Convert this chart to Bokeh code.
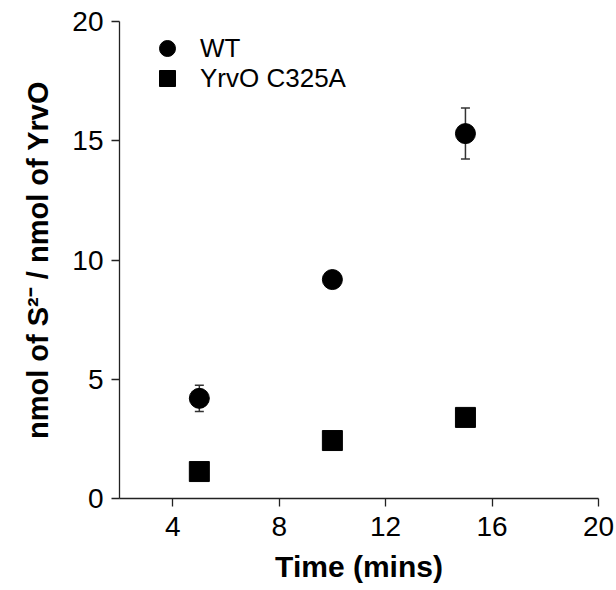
from bokeh.plotting import figure
from bokeh.models import Range1d, FixedTicker, Whisker, ColumnDataSource, Legend, LegendItem, TeeHead
from bokeh.embed import file_html
from bokeh.resources import INLINE

# data
times = [5, 10, 15]
wt_mean = [4.2, 9.18, 15.3]
wt_err = [0.55, 0.25, 1.07]
mut_mean = [1.13, 2.43, 3.40]
mut_err = [0.1, 0.1, 0.1]
x_ticks = [4, 8, 12, 16, 20]
y_ticks = [0, 5, 10, 15, 20]
series_names = ["WT", "YrvO C325A"]

FONT = "Liberation Sans"

p = figure(width=616, height=588, output_backend="svg", toolbar_location=None,
           x_range=Range1d(2, 20), y_range=Range1d(0, 20),
           min_border_left=119, min_border_right=18, min_border_top=21, min_border_bottom=90)
p.outline_line_color = None
p.xgrid.visible = False
p.ygrid.visible = False
p.background_fill_color = "white"
p.border_fill_color = "white"

for ax in (p.xaxis[0], p.yaxis[0]):
    ax.axis_line_color = "#222222"
    ax.axis_line_width = 1.3
    ax.major_tick_line_color = "#222222"
    ax.major_tick_line_width = 1.3
    ax.major_tick_out = 8
    ax.major_tick_in = 0
    ax.minor_tick_line_color = None
    ax.major_label_text_font = FONT
    ax.major_label_text_font_size = "28px"
    ax.major_label_text_color = "black"
    ax.axis_label_text_font = FONT
    ax.axis_label_text_font_style = "bold"
    ax.axis_label_text_color = "black"

p.xaxis.axis_label_text_font_size = "30px"
p.yaxis.axis_label_text_font_size = "29px"
p.xaxis.ticker = FixedTicker(ticks=x_ticks)
p.yaxis.ticker = FixedTicker(ticks=y_ticks)
p.xaxis.axis_label = "Time (mins)"
p.yaxis.axis_label = "nmol of S\u00b2\u207b / nmol of YrvO"
p.xaxis.major_label_standoff = 10
p.yaxis.major_label_standoff = 8
p.xaxis.axis_label_standoff = 11
p.yaxis.axis_label_standoff = 15

wt_src = ColumnDataSource(dict(x=times, y=wt_mean,
                               lo=[m - e for m, e in zip(wt_mean, wt_err)],
                               hi=[m + e for m, e in zip(wt_mean, wt_err)]))
mut_src = ColumnDataSource(dict(x=times, y=mut_mean,
                                lo=[m - e for m, e in zip(mut_mean, mut_err)],
                                hi=[m + e for m, e in zip(mut_mean, mut_err)]))

for src in (wt_src, mut_src):
    w = Whisker(source=src, base="x", lower="lo", upper="hi", dimension="height",
                line_color="#333333", line_width=1.5,
                upper_head=TeeHead(size=9, line_color="#333333", line_width=1.5),
                lower_head=TeeHead(size=9, line_color="#333333", line_width=1.5))
    p.add_layout(w)

r_wt = p.scatter("x", "y", source=wt_src, marker="circle", size=20, fill_color="black", line_color="black")
r_mut = p.scatter("x", "y", source=mut_src, marker="square", size=20, fill_color="black", line_color="black")

legend_style = dict(glyph_width=40, glyph_height=40, padding=0, margin=0, label_standoff=13,
                    label_text_font=FONT, label_text_font_size="26px", label_text_color="black",
                    border_line_color=None, background_fill_alpha=0)
leg1 = Legend(items=[LegendItem(label=series_names[0], renderers=[r_wt])],
              location=(28, 430), **legend_style)
leg2 = Legend(items=[LegendItem(label=series_names[1], renderers=[r_mut])],
              location=(28, 400), **legend_style)
p.add_layout(leg1, "center")
p.add_layout(leg2, "center")

open("out.html", "w").write(file_html(p, INLINE))
